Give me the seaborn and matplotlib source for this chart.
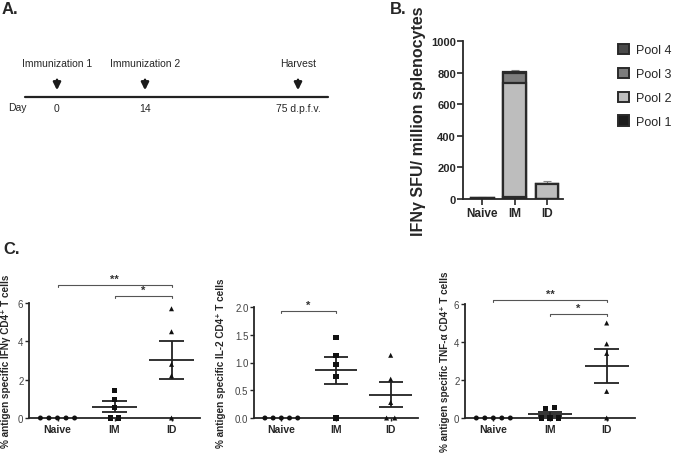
import matplotlib.pyplot as plt
import numpy as np
import pandas as pd
import seaborn as sns
from matplotlib.patches import Patch

sns.set_style('ticks')
plt.rcParams['font.family'] = ['Liberation Sans', 'DejaVu Sans']

groups = ['Naive', 'IM', 'ID']

# A. schematic timeline
events = ['Immunization 1', 'Immunization 2', 'Harvest']
event_days = ['0', '14', '75 d.p.f.v.']

# B. IFNg ELISpot, stacked by peptide pool
pools = ['Pool 1', 'Pool 2', 'Pool 3', 'Pool 4']
pool_colors = ['#1c1c1c', '#bdbdbd', '#7d7d7d', '#4a4a4a']
pool1 = [2, 15, 3]
pool2 = [3, 720, 92]
pool3 = [2, 62, 2]
pool4 = [1, 5, 1]
total_sem = [3, 15, 15]

# C. intracellular cytokine staining, % of CD4+ T cells
ifng_naive = [0, 0, 0, 0, 0]
ifng_im = [1.45, 0.97, 0.55, 0, 0]
ifng_id = [5.7, 4.5, 2.8, 2.2, 0]
il2_naive = [0, 0, 0, 0, 0]
il2_im = [1.45, 1.13, 0.97, 0.75, 0]
il2_id = [1.13, 0.7, 0.28, 0, 0]
tnfa_naive = [0, 0, 0, 0, 0]
tnfa_im = [0.48, 0.55, 0, 0, 0]
tnfa_id = [5.0, 3.9, 3.4, 1.4, 0]

W, H = 675, 456
fig = plt.figure(figsize=(W / 100, H / 100), dpi=100)


def px_axes(left, top, right, bottom):
    return fig.add_axes([left / W, 1 - bottom / H, (right - left) / W, (bottom - top) / H])


def panel_label(x, y, s):
    fig.text(x / W, 1 - y / H, s, fontsize=12, fontweight='bold', va='center', ha='left')


# ----------------------------------------------------------------------------------------------------------------------
# A. timeline
# ----------------------------------------------------------------------------------------------------------------------
axA = px_axes(0, 0, 340, 228)
axA.set_xlim(0, 340)
axA.set_ylim(228, 0)
axA.axis('off')
event_x = [57, 145, 298]
axA.plot([25, 328], [98, 98], color='#222222', lw=1.6)
for x, ev, day in zip(event_x, events, event_days):
    axA.annotate('', xy=(x, 94), xytext=(x, 78),
                 arrowprops=dict(arrowstyle='-|>', lw=1.8, color='#1a1a1a', mutation_scale=11))
    axA.text(x, 64, ev, ha='center', va='center', fontsize=7.5)
    axA.text(x, 109, day, ha='center', va='center', fontsize=7.5)
axA.text(8, 108, 'Day', ha='left', va='center', fontsize=7.5)
panel_label(2, 10, 'A.')

# ----------------------------------------------------------------------------------------------------------------------
# B. stacked ELISpot bars
# ----------------------------------------------------------------------------------------------------------------------
axB = px_axes(463, 42, 563, 200)
elispot = pd.DataFrame({'group': groups, 'Pool 1': pool1, 'Pool 2': pool2,
                        'Pool 3': pool3, 'Pool 4': pool4})
cum = elispot[pools].cumsum(axis=1)
for pool, color in reversed(list(zip(pools, pool_colors))):
    sns.barplot(x=elispot['group'], y=cum[pool], order=groups, color=color, saturation=1,
                edgecolor='#2a2a2a', linewidth=1.6, width=0.7, errorbar=None, ax=axB)
totals = cum['Pool 4'].values
axB.errorbar(range(len(groups)), totals, yerr=[np.zeros(3), total_sem], fmt='none',
             ecolor='#888888', elinewidth=0.8, capsize=3, capthick=0.8, zorder=0)
axB.set_xlim(-0.6, 2.5)
axB.set_ylim(0, 1000)
axB.set_yticks([0, 200, 400, 600, 800, 1000])
axB.set_xlabel('')
axB.set_ylabel('IFNγ SFU/ million splenocytes', fontsize=11.5, fontweight='bold')
axB.yaxis.set_label_coords(-0.37, 0.5)
for lab in axB.get_xticklabels() + axB.get_yticklabels():
    lab.set_fontweight('bold')
axB.tick_params(axis='y', labelsize=8, length=4, width=1.2, pad=1)
axB.tick_params(axis='x', labelsize=8.5, length=4, width=1.2, pad=2)
sns.despine(ax=axB)
for sp in ['left', 'bottom']:
    axB.spines[sp].set_linewidth(1.3)
handles = [Patch(facecolor=c, edgecolor='#2a2a2a', linewidth=1.4, label=p)
           for p, c in zip(pools, pool_colors)][::-1]
fig.legend(handles=handles, loc='upper left', bbox_to_anchor=(618 / W, 1 - 45 / H), frameon=False,
           fontsize=9, handlelength=0.9, handleheight=0.9, handletextpad=0.5, labelspacing=0.9,
           borderaxespad=0, borderpad=0)
panel_label(390, 9, 'B.')

# ----------------------------------------------------------------------------------------------------------------------
# C. ICS scatter with mean +/- SEM
# ----------------------------------------------------------------------------------------------------------------------
markers = {'Naive': 'o', 'IM': 's', 'ID': '^'}


def ics_frame(naive, im, idv, ymax):
    df = pd.DataFrame({'group': np.repeat(groups, [len(naive), len(im), len(idv)]),
                       'value': naive + im + idv})
    df['bin'] = (df['value'] / (ymax / 12)).round()
    g = df.groupby(['group', 'bin'])
    df['dx'] = g.cumcount() - (g['value'].transform('size') - 1) / 2
    df['xpos'] = df['group'].map({k: i for i, k in enumerate(groups)}) + 0.15 * df['dx']
    return df


def ics_panel(ax, df, ymax, yticks, ylabel, label_x, brackets):
    sns.scatterplot(data=df, x='xpos', y='value', style='group', markers=markers, color='#111111',
                    s=13, linewidth=0, legend=False, clip_on=False, zorder=5, ax=ax)
    stats = df.groupby('group')['value'].agg(['mean', 'sem']).reindex(groups)
    for i, (g, row) in enumerate(stats.iterrows()):
        if g == 'Naive':
            continue
        ax.hlines(row['mean'], i - 0.39, i + 0.39, color='#222222', lw=1.3, zorder=4)
        ax.hlines([row['mean'] - row['sem'], row['mean'] + row['sem']], i - 0.22, i + 0.22,
                  color='#222222', lw=1.3, zorder=4)
        ax.vlines(i, row['mean'] - row['sem'], row['mean'] + row['sem'], color='#222222', lw=1.3, zorder=4)
    for i, j, y, stars in brackets:
        cap = ymax * 0.02
        ax.plot([i, i, j, j], [y - cap, y, y, y - cap], color='#555555', lw=0.8, clip_on=False)
        ax.text((i + j) / 2, y + ymax * 0.01, stars, ha='center', va='bottom', fontsize=8,
                fontweight='bold', color='#333333', clip_on=False)
    ax.set_xlim(-0.5, 2.5)
    ax.set_ylim(0, ymax)
    ax.set_yticks(yticks)
    ax.set_xticks(range(len(groups)))
    ax.set_xticklabels(groups, fontweight='bold')
    ax.set_xlabel('')
    ax.set_ylabel(ylabel, fontsize=7.2, fontweight='bold')
    ax.yaxis.set_label_coords(label_x, 0.5)
    ax.tick_params(axis='y', labelsize=7, labelcolor='#444444', length=3, width=1, pad=1)
    ax.tick_params(axis='x', labelsize=7.5, length=2, width=1, pad=2)
    sns.despine(ax=ax)
    for sp in ['left', 'bottom']:
        ax.spines[sp].set_linewidth(1.3)


axC1 = px_axes(29, 304, 200, 419)
ics_panel(axC1, ics_frame(ifng_naive, ifng_im, ifng_id, 6), 6, [0, 2, 4, 6],
          '% antigen specific IFNγ CD4⁺ T cells', -0.105,
          [(0, 2, 6.94, '**'), (1, 2, 6.36, '*')])

axC2 = px_axes(254, 308, 418, 419)
ics_panel(axC2, ics_frame(il2_naive, il2_im, il2_id, 2), 2, [0, 0.5, 1.0, 1.5, 2.0],
          '% antigen specific IL-2 CD4⁺ T cells', -0.17,
          [(0, 1, 1.93, '*')])
axC2.set_yticklabels(['0.0', '0.5', '1.0', '1.5', '2.0'])

axC3 = px_axes(465, 305, 635, 419)
ics_panel(axC3, ics_frame(tnfa_naive, tnfa_im, tnfa_id, 6), 6, [0, 2, 4, 6],
          '% antigen specific TNF-α CD4⁺ T cells', -0.09,
          [(0, 2, 6.2, '**'), (1, 2, 5.5, '*')])

panel_label(3, 250, 'C.')

fig.savefig('out.png', dpi=100)
